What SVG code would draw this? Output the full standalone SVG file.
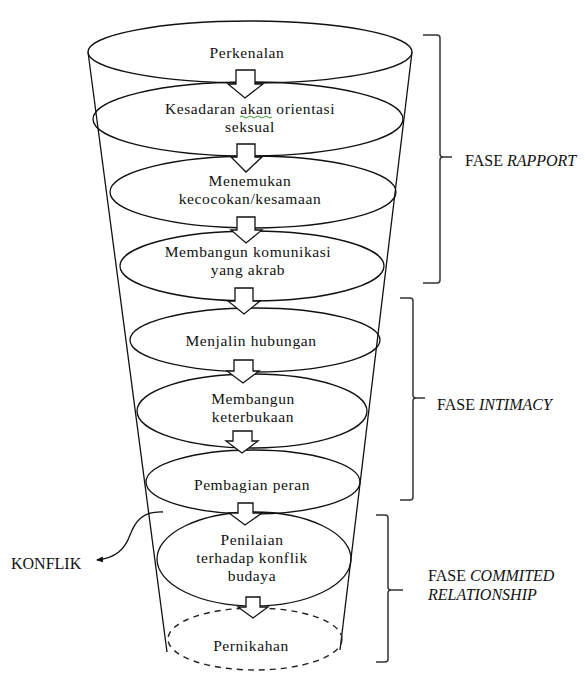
<svg xmlns="http://www.w3.org/2000/svg" width="585" height="673" viewBox="0 0 585 673" font-family="'Liberation Serif', 'DejaVu Serif', serif">
<style>
.el{fill:none;stroke:#111;stroke-width:1.3}
.dash{fill:none;stroke:#222;stroke-width:1.4;stroke-dasharray:6 5}
.fn{fill:none;stroke:#111;stroke-width:1.3}
.ar{fill:#fff;stroke:#111;stroke-width:1.3;stroke-linejoin:miter}
.t{font-family:'Liberation Serif','DejaVu Serif',serif;font-size:15.5px;letter-spacing:0.6px;fill:#111;text-anchor:middle}
.lb{font-family:'Liberation Serif','DejaVu Serif',serif;font-size:16px;fill:#111}
.br{fill:none;stroke:#333;stroke-width:1.5}
</style>
<defs>
<marker id="ah" markerWidth="8" markerHeight="8" refX="6" refY="4" orient="auto" markerUnits="userSpaceOnUse">
<path d="M0,1 L7,4 L0,7 Z" fill="#111"/>
</marker>
</defs>
<rect width="585" height="673" fill="#fff"/>

<g id="funnel">
<line class="fn" x1="88" y1="52" x2="167" y2="652"/>
<line class="fn" x1="412" y1="52" x2="340" y2="650"/>
</g>

<g id="n1"><ellipse class="el" cx="250" cy="52" rx="162" ry="31"/><text class="t" x="247" y="58">Perkenalan</text></g>
<g id="n2"><ellipse class="el" cx="248" cy="119" rx="155" ry="37"/><text class="t" x="250" y="114">Kesadaran akan orientasi</text><text class="t" x="250" y="132">seksual</text>
<path d="M240,117 q2,-2 4,0 t4,0 t4,0 t4,0 t4,0 t4,0 t4,0 t4,0" fill="none" stroke="#3a9a3a" stroke-width="1"/></g>
<g id="n3"><ellipse class="el" cx="253" cy="192" rx="143" ry="36"/><text class="t" x="250" y="186">Menemukan</text><text class="t" x="250" y="204">kecocokan/kesamaan</text></g>
<g id="n4"><ellipse class="el" cx="252" cy="266" rx="132" ry="35"/><text class="t" x="248" y="257">Membangun komunikasi</text><text class="t" x="248" y="275">yang akrab</text></g>
<g id="n5"><ellipse class="el" cx="255" cy="340" rx="125" ry="32"/><text class="t" x="251" y="346">Menjalin hubungan</text></g>
<g id="n6"><ellipse class="el" cx="252" cy="411" rx="115" ry="37"/><text class="t" x="253" y="404">Membangun</text><text class="t" x="253" y="422">keterbukaan</text></g>
<g id="n7"><ellipse class="el" cx="253" cy="482" rx="107" ry="32"/><text class="t" x="252" y="490">Pembagian peran</text></g>
<g id="n8"><ellipse class="el" cx="254" cy="559" rx="97" ry="47"/><text class="t" x="252" y="545">Penilaian</text><text class="t" x="252" y="563">terhadap konflik</text><text class="t" x="252" y="581">budaya</text></g>
<g id="n9"><ellipse class="dash" cx="255" cy="639" rx="87" ry="31"/><text class="t" x="251" y="651">Pernikahan</text></g>

<g id="connectors">
<path class="ar" d="M236,70 H255 V84 H263 L245,98 L228,84 H236 Z"/>
<path class="ar" d="M237,144 H255 V157 H262 L246,172 L231,157 H237 Z"/>
<path class="ar" d="M237,217 H255 V230 H262 L246,243 L231,230 H237 Z"/>
<path class="ar" d="M235,288 H253 V301 H260 L244,314 L228,301 H235 Z"/>
<path class="ar" d="M234,360 H253 V371 H259 L243,383 L227,371 H234 Z"/>
<path class="ar" d="M233,431 H252 V441 H258 L242,453 L226,441 H233 Z"/>
<path class="ar" d="M238,503 H253 V513 H262 L245,525 L229,513 H238 Z"/>
<path class="ar" d="M246,597 H260 V607 H268 L253,618 L238,607 H246 Z"/>
<path d="M163,512 C142,511 135,522 130,535 C125,549 116,558 97,560" fill="none" stroke="#111" stroke-width="1.3" marker-end="url(#ah)"/>
</g>

<g id="konflik"><text class="lb" x="11" y="569">KONFLIK</text></g>

<g id="phase1">
<path class="br" d="M423,35 H437 Q440,35 440,38 V154 Q440,157 443,157 H452 M443,157 Q440,157 440,160 V280 Q440,283 437,283 H423"/>
<text class="lb" x="465" y="166">FASE <tspan font-style="italic">RAPPORT</tspan></text>
</g>
<g id="phase2">
<path class="br" d="M400,298 H410 Q413,298 413,301 V395 Q413,398 416,398 H425 M416,398 Q413,398 413,401 V497 Q413,500 410,500 H400"/>
<text class="lb" x="437" y="410">FASE <tspan font-style="italic">INTIMACY</tspan></text>
</g>
<g id="phase3">
<path class="br" d="M376,515 H385 Q388,515 388,518 V587 Q388,590 391,590 H403 M391,590 Q388,590 388,593 V659 Q388,662 385,662 H376"/>
<text class="lb" x="428" y="581">FASE <tspan font-style="italic">COMMITED</tspan></text>
<text class="lb" x="428" y="600" font-style="italic">RELATIONSHIP</text>
</g>
</svg>
